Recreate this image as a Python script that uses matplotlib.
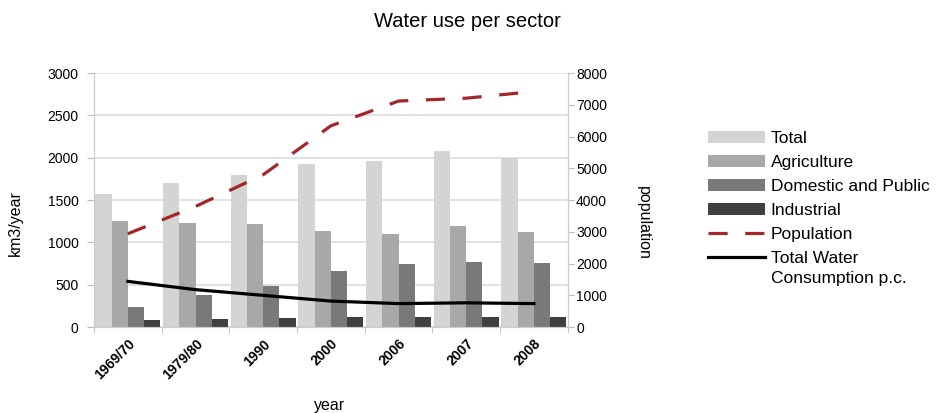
import matplotlib
matplotlib.use("Agg")
import matplotlib.pyplot as plt
import numpy as np

years = ["1969/70", "1979/80", "1990", "2000", "2006", "2007", "2008"]
total = [1570, 1700, 1800, 1925, 1965, 2075, 1995]
agriculture = [1250, 1235, 1220, 1135, 1105, 1195, 1120]
domestic = [235, 380, 485, 660, 740, 770, 760]
industrial = [85, 90, 105, 125, 115, 120, 120]
population = [2940, 3800, 4800, 6340, 7120, 7210, 7420]
consumption_pc = [1440, 1180, 1000, 820, 740, 765, 740]

plt.rcParams['font.family'] = ['Liberation Sans', 'DejaVu Sans']

fig = plt.figure(figsize=(9.4, 4.13), dpi=100)
ax = fig.add_axes([0.1, 0.208, 0.504, 0.615])
ax2 = ax.twinx()

x = np.arange(len(years))
w = 0.24
colors = ['#d4d4d4', '#a8a8a8', '#797979', '#404040']
series = [total, agriculture, domestic, industrial]
names = ['Total', 'Agriculture', 'Domestic and Public', 'Industrial']
handles = []
for i, (s, c, n) in enumerate(zip(series, colors, names)):
    b = ax.bar(x + (i - 1.5) * w, s, width=w, color=c, label=n, zorder=2)
    handles.append(b)

l1, = ax2.plot(x, population, color='#a3262c', lw=2.3, dashes=(6, 5.5), label='Population', zorder=3)
l2, = ax2.plot(x, consumption_pc, color='black', lw=2.3, label='Total Water', zorder=3)
handles += [l1, l2]

ax.set_xlim(-0.5, len(years) - 0.5)
ax.set_ylim(0, 3000)
ax2.set_ylim(0, 8000)
ax.set_yticks(np.arange(0, 3001, 500))
ax2.set_yticks(np.arange(0, 8001, 1000))
ax.yaxis.grid(True, color='#e2e2e2', lw=1.4, zorder=0)
ax.set_axisbelow(True)

ax.set_xticks(x)
ax.set_xticklabels(years, rotation=45, ha='right', rotation_mode='anchor',
                   fontsize=10, fontweight='bold')
ax.set_xticks(np.arange(-0.5, len(years), 1), minor=True)
ax.tick_params(axis='x', which='major', length=0, pad=7)
ax.tick_params(axis='x', which='minor', length=4, color='#bbbbbb')
ax.tick_params(axis='y', length=5, color='#bbbbbb', labelsize=10, pad=6)
ax2.tick_params(axis='y', length=4, color='#bbbbbb', labelsize=10, pad=2)

for a in (ax, ax2):
    a.spines['top'].set_visible(False)
    for sp in ('left', 'right', 'bottom'):
        a.spines[sp].set_color('#cccccc')

ax.set_ylabel('km3/year', fontsize=11.5)
ax.yaxis.set_label_coords(-0.15, 0.41)
ax2.set_ylabel('population', fontsize=11.5, rotation=270, va='center')
ax2.yaxis.set_label_coords(1.16, 0.41)
ax.set_xlabel('year', fontsize=11.5, va='center')
ax.xaxis.set_label_coords(0.497, -0.307)

fig.text(0.497, 0.947, 'Water use per sector', ha='center', va='center', fontsize=14.5)

leg = fig.legend(handles=handles, loc='upper left', bbox_to_anchor=(0.746, 0.70),
                 frameon=False, fontsize=12.5, handlelength=3.3, handletextpad=0.3,
                 labelspacing=0.51, borderaxespad=0)

fig.canvas.draw()
r = fig.canvas.get_renderer()
bb = leg.get_texts()[-1].get_window_extent(r)
inv = fig.transFigure.inverted()
x0, y0 = inv.transform((bb.x0, bb.y0))
fig.text(x0, y0 - 0.012, 'Consumption p.c.', ha='left', va='top', fontsize=12.5)

fig.savefig('out.png', dpi=100)
